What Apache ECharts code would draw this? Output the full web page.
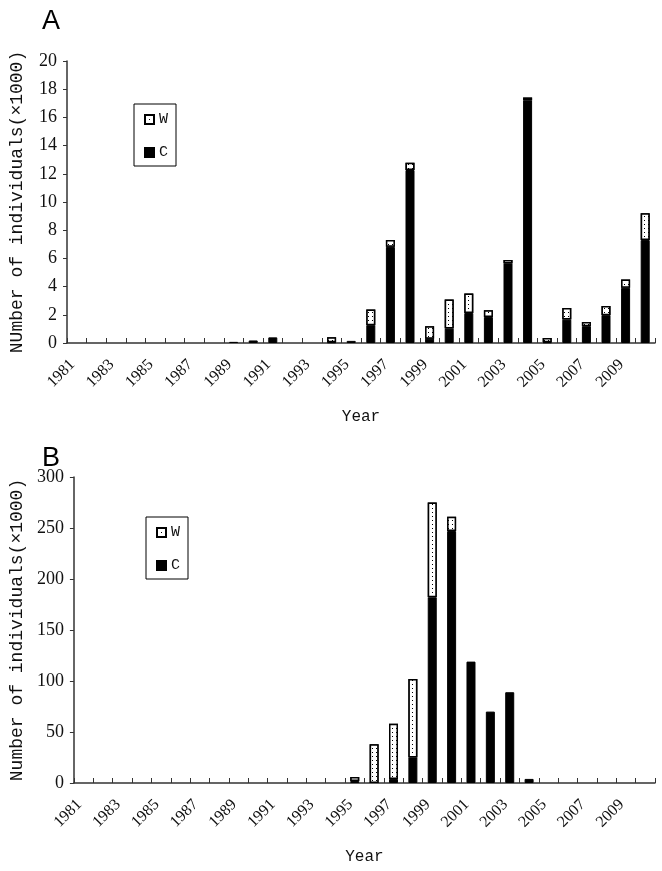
<!DOCTYPE html>
<html>
<head>
<meta charset="utf-8">
<script src="https://cdn.jsdelivr.net/npm/echarts@6/dist/echarts.min.js"></script>
<style>html,body{margin:0;padding:0;background:#fff}#c{width:662px;height:871px}</style>
</head>
<body>
<div id="c"></div>
<script>
const years = [];
for (let y = 1981; y <= 2010; y++) years.push(String(y));

// Panel A (x1000 individuals)
const aC = [0,0,0,0,0,0,0,0,0.08,0.18,0.4,0,0,0.05,0.15,1.26,6.82,12.27,0.31,1.02,2.13,1.85,5.64,17.2,0.05,1.66,1.19,1.97,3.91,7.3];
const aW = [0,0,0,0,0,0,0,0,0,0,0,0,0,0.35,0,1.11,0.48,0.52,0.88,2.06,1.38,0.47,0.24,0.21,0.3,0.83,0.3,0.66,0.59,1.9];
// Panel B (x1000 individuals)
const bC = [0,0,0,0,0,0,0,0,0,0,0,0,0,0,2,0,4,25,182,247,119,70,89,4,0,0,0,0,0,0];
const bW = [0,0,0,0,0,0,0,0,0,0,0,0,0,0,4,38,54,77,93,14,0,0,0,0,0,0,0,0,0,0];

const aTicks = [0,2,4,6,8,10,12,14,16,18,20];
const bTicks = [0,50,100,150,200,250,300];

const serif = "'Liberation Serif', 'DejaVu Serif', serif";
const mono = "'Liberation Mono', 'DejaVu Sans Mono', monospace";
const ink = '#111';

const nz = arr => arr.map(v => v === 0 ? null : v);

const wDecal = {
  symbol: 'rect', symbolSize: 1, color: '#000', backgroundColor: '#fff',
  dashArrayX: [1, 3], dashArrayY: [1, 3], rotation: 0
};

function xAxis(gi) {
  return {
    type: 'category', gridIndex: gi, data: years,
    name: 'Year', nameLocation: 'middle', nameGap: 66,
    nameTextStyle: { fontFamily: mono, fontSize: 16, color: ink },
    axisLine: { lineStyle: { color: '#333', width: 1.5 } },
    axisTick: { show: true, inside: true, length: 5, interval: 0, alignWithLabel: false, lineStyle: { color: '#333', width: 1 } },
    axisLabel: { interval: 1, rotate: 45, margin: 15, fontFamily: serif, fontSize: 16, color: ink, padding: [0, 6, 10, 0] },
    splitLine: { show: false }
  };
}
function yAxis(gi, ticks, name) {
  return {
    type: 'value', gridIndex: gi, min: ticks[0], max: ticks[ticks.length - 1],
    interval: ticks[1] - ticks[0],
    name: name, nameLocation: 'middle', nameGap: 41, nameRotate: 90,
    nameTextStyle: { fontFamily: mono, fontSize: 18, color: ink },
    axisLine: { show: true, lineStyle: { color: '#333', width: 1.5 } },
    axisTick: { show: true, inside: false, length: 4, lineStyle: { color: '#333' } },
    axisLabel: { margin: 10, fontFamily: serif, fontSize: 18, color: ink },
    splitLine: { show: false }
  };
}

function series(gi, c, w) {
  return [
    { name: 'C', type: 'bar', stack: 's' + gi, xAxisIndex: gi, yAxisIndex: gi, data: nz(c), barWidth: 9,
      itemStyle: { color: '#000', borderColor: '#000', borderWidth: 1 } },
    { name: 'W', type: 'bar', stack: 's' + gi, xAxisIndex: gi, yAxisIndex: gi, data: nz(w), barWidth: 9,
      itemStyle: { color: '#fff', borderColor: '#000', borderWidth: 1.5, decal: wDecal } }
  ];
}

function legend(left, top) {
  return {
    data: ['W', 'C'], orient: 'vertical', left: left, top: top,
    icon: 'rect', itemWidth: 9, itemHeight: 9, itemGap: 18,
    padding: [8, 8, 6, 10], borderColor: '#000', borderWidth: 1,
    textStyle: { fontFamily: mono, fontSize: 15, color: ink },
    selectedMode: false
  };
}

const chart = echarts.init(document.getElementById('c'), null, { renderer: 'canvas' });
chart.setOption({
  animation: false,
  backgroundColor: '#fff',
  title: [
    { text: 'A', left: 37, top: 3, textStyle: { fontFamily: "'Liberation Sans', Arial, sans-serif", fontSize: 27, fontWeight: 'normal', color: '#000' } },
    { text: 'B', left: 37, top: 440, textStyle: { fontFamily: "'Liberation Sans', Arial, sans-serif", fontSize: 27, fontWeight: 'normal', color: '#000' } }
  ],
  legend: [legend(134, 104), legend(146, 517)],
  grid: [
    { left: 67, right: 7, top: 61, bottom: 528, containLabel: false },
    { left: 73, right: 7, top: 477, bottom: 88, containLabel: false }
  ],
  xAxis: [xAxis(0), xAxis(1)],
  yAxis: [yAxis(0, aTicks, 'NUmber of individuals(×1000)'), yAxis(1, bTicks, 'Number of individuals(×1000)')],
  series: [...series(0, aC, aW), ...series(1, bC, bW)]
});
</script>
</body>
</html>
